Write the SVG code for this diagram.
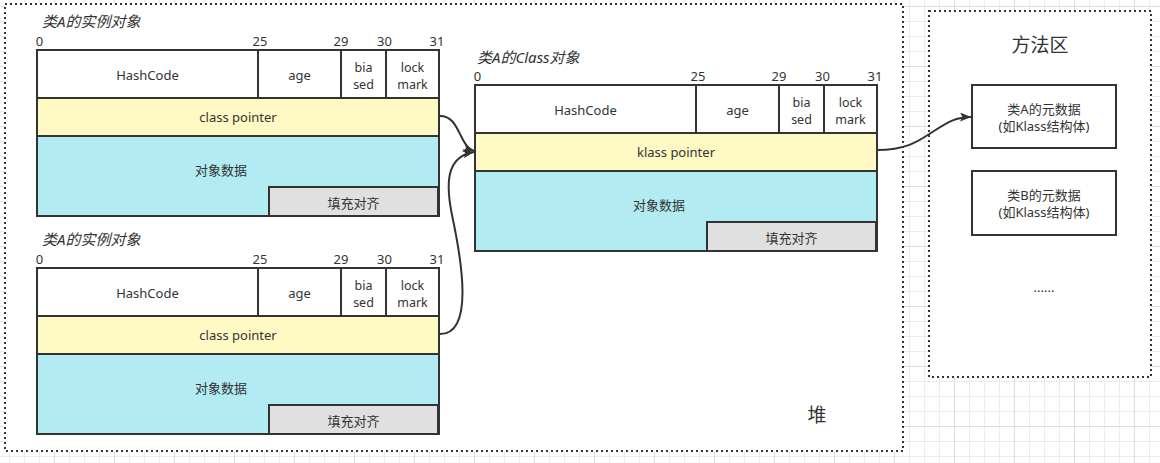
<svg xmlns="http://www.w3.org/2000/svg" width="1160" height="463" viewBox="0 0 1160 463">
  <style>
    text { font-family: "Noto Sans", "Noto Sans CJK SC", "Liberation Sans", sans-serif; fill: #333; font-size: 13px; }
    .title { font-size: 15px; font-style: italic; }
    .bit { font-size: 13px; }
    .stack { font-size: 12.5px; }
    .mid { text-anchor: middle; }
    .box { stroke: #333; stroke-width: 2; }
    .white { fill: #ffffff; }
    .yellow { fill: #fff9c4; }
    .cyan { fill: #b2ebf2; }
    .gray { fill: #e0e0e0; }
    .dotted { fill: #ffffff; stroke: #333; stroke-width: 2; stroke-dasharray: 2 3; }
    .edge { fill: none; stroke: #333; stroke-width: 2; }
    .big { font-size: 19px; }
  </style>
  <defs>
    <pattern id="grid" patternUnits="userSpaceOnUse" x="54" y="6" width="60" height="60">
      <rect x="0" y="0" width="60" height="60" fill="#ffffff"/>
      <rect x="15" y="0" width="1" height="60" fill="#ececec"/>
      <rect x="30" y="0" width="1" height="60" fill="#ececec"/>
      <rect x="45" y="0" width="1" height="60" fill="#ececec"/>
      <rect x="0" y="15" width="60" height="1" fill="#ececec"/>
      <rect x="0" y="30" width="60" height="1" fill="#ececec"/>
      <rect x="0" y="45" width="60" height="1" fill="#ececec"/>
      <rect x="0" y="0" width="1" height="60" fill="#dddddd"/>
      <rect x="0" y="0" width="60" height="1" fill="#dddddd"/>
    </pattern>
    <marker id="arrow" markerUnits="userSpaceOnUse" markerWidth="12" markerHeight="10" refX="11" refY="4.5" orient="auto">
      <path d="M0,0 L11,4.5 L0,9 L2.5,4.5 z" fill="#333"/>
    </marker>
  </defs>

  <rect x="0" y="0" width="1160" height="463" fill="url(#grid)"/>

  <g id="heap">
    <rect class="dotted" x="5" y="4" width="898" height="447"/>
    <text class="big mid" x="817" y="422">堆</text>
  </g>

  <g id="method-area">
    <rect class="dotted" x="929" y="11" width="222" height="366"/>
    <text class="big mid" x="1040" y="52">方法区</text>
  </g>

  <g id="instance-a1" transform="translate(37,50)">
    <text class="title" x="5" y="-23">类A的实例对象</text>
    <text class="bit mid" x="2.5" y="-4">0</text>
    <text class="bit mid" x="223" y="-4">25</text>
    <text class="bit mid" x="304" y="-4">29</text>
    <text class="bit mid" x="347.5" y="-4">30</text>
    <text class="bit mid" x="400" y="-4">31</text>
    <rect class="box white" x="0" y="0" width="402" height="48"/>
    <line class="box" x1="221" y1="0" x2="221" y2="48"/>
    <line class="box" x1="304" y1="0" x2="304" y2="48"/>
    <line class="box" x1="349" y1="0" x2="349" y2="48"/>
    <text class="mid" x="110.5" y="29.5">HashCode</text>
    <text class="mid" x="262.5" y="29.5">age</text>
    <text class="stack mid" x="326.5" y="21.5">bia<tspan x="326.5" dy="17">sed</tspan></text>
    <text class="stack mid" x="375.5" y="21.5">lock<tspan x="375.5" dy="17">mark</tspan></text>
    <rect class="box yellow" x="0" y="48" width="402" height="38"/>
    <text class="mid" x="201" y="71.5">class pointer</text>
    <rect class="box cyan" x="0" y="86" width="402" height="80"/>
    <text class="mid" x="184" y="125">对象数据</text>
    <rect class="box gray" x="232" y="137" width="169" height="29"/>
    <text class="mid" x="316.5" y="158">填充对齐</text>
  </g>

  <g id="instance-a2" transform="translate(37,268)">
    <text class="title" x="5" y="-23">类A的实例对象</text>
    <text class="bit mid" x="2.5" y="-4">0</text>
    <text class="bit mid" x="223" y="-4">25</text>
    <text class="bit mid" x="304" y="-4">29</text>
    <text class="bit mid" x="347.5" y="-4">30</text>
    <text class="bit mid" x="400" y="-4">31</text>
    <rect class="box white" x="0" y="0" width="402" height="48"/>
    <line class="box" x1="221" y1="0" x2="221" y2="48"/>
    <line class="box" x1="304" y1="0" x2="304" y2="48"/>
    <line class="box" x1="349" y1="0" x2="349" y2="48"/>
    <text class="mid" x="110.5" y="29.5">HashCode</text>
    <text class="mid" x="262.5" y="29.5">age</text>
    <text class="stack mid" x="326.5" y="21.5">bia<tspan x="326.5" dy="17">sed</tspan></text>
    <text class="stack mid" x="375.5" y="21.5">lock<tspan x="375.5" dy="17">mark</tspan></text>
    <rect class="box yellow" x="0" y="48" width="402" height="38"/>
    <text class="mid" x="201" y="71.5">class pointer</text>
    <rect class="box cyan" x="0" y="86" width="402" height="80"/>
    <text class="mid" x="184" y="125">对象数据</text>
    <rect class="box gray" x="232" y="137" width="169" height="29"/>
    <text class="mid" x="316.5" y="158">填充对齐</text>
  </g>

  <g id="class-a" transform="translate(475,85)">
    <text class="title" x="2" y="-22">类A的Class对象</text>
    <text class="bit mid" x="2.5" y="-4">0</text>
    <text class="bit mid" x="223" y="-4">25</text>
    <text class="bit mid" x="304" y="-4">29</text>
    <text class="bit mid" x="347.5" y="-4">30</text>
    <text class="bit mid" x="400" y="-4">31</text>
    <rect class="box white" x="0" y="0" width="402" height="48"/>
    <line class="box" x1="221" y1="0" x2="221" y2="48"/>
    <line class="box" x1="304" y1="0" x2="304" y2="48"/>
    <line class="box" x1="349" y1="0" x2="349" y2="48"/>
    <text class="mid" x="110.5" y="29.5">HashCode</text>
    <text class="mid" x="262.5" y="29.5">age</text>
    <text class="stack mid" x="326.5" y="21.5">bia<tspan x="326.5" dy="17">sed</tspan></text>
    <text class="stack mid" x="375.5" y="21.5">lock<tspan x="375.5" dy="17">mark</tspan></text>
    <rect class="box yellow" x="0" y="48" width="402" height="38"/>
    <text class="mid" x="201" y="71.5">klass pointer</text>
    <rect class="box cyan" x="0" y="86" width="402" height="80"/>
    <text class="mid" x="184" y="125">对象数据</text>
    <rect class="box gray" x="232" y="137" width="169" height="29"/>
    <text class="mid" x="316.5" y="158">填充对齐</text>
  </g>

  <g id="meta-a">
    <rect class="box white" x="972" y="85" width="144" height="63"/>
    <text class="mid" x="1044" y="114">类A的元数据<tspan x="1044" dy="17">(如Klass结构体)</tspan></text>
  </g>

  <g id="meta-b">
    <rect class="box white" x="972" y="171" width="144" height="64"/>
    <text class="mid" x="1044" y="200">类B的元数据<tspan x="1044" dy="17">(如Klass结构体)</tspan></text>
  </g>

  <g id="more">
    <text class="mid" x="1044" y="292">......</text>
  </g>

  <g id="connectors">
    <path class="edge" d="M440,116 C452,116 456,126 461,136 C465,144 468,149 474,151" marker-end="url(#arrow)"/>
    <path class="edge" d="M440,334 C474,334 462,262 452,215 C444,176 450,156 474,152" marker-end="url(#arrow)"/>
    <path class="edge" d="M877,150 C908,150 920,140 934,131 C948,122 956,117 971,117" marker-end="url(#arrow)"/>
  </g>
</svg>
